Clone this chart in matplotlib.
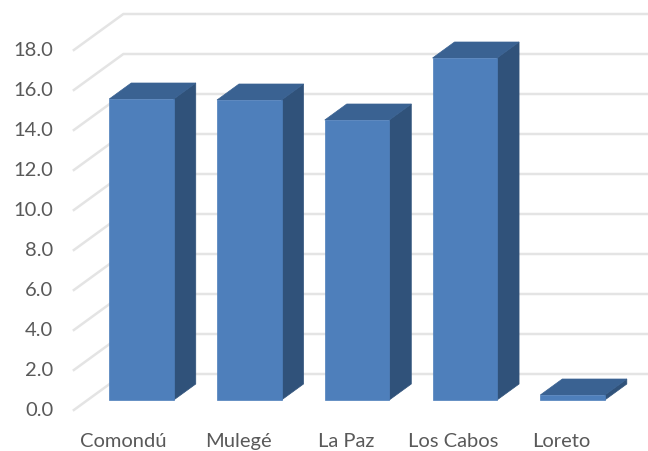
import matplotlib
matplotlib.use('Agg')
import matplotlib.pyplot as plt
from matplotlib.patches import Polygon

categories = ['Comondú', 'Mulegé', 'La Paz', 'Los Cabos', 'Loreto']
values = [15.05, 15.0, 14.0, 17.1, 0.25]
y_ticks = [0, 2, 4, 6, 8, 10, 12, 14, 16, 18]

FRONT = '#4e7fbb'
TOP = '#3a6292'
SIDE = '#30527a'
GRID = '#e4e4e4'
TEXT = '#595959'

plt.rcParams['font.family'] = ['Lato', 'DejaVu Sans']

# depth is faked by a shift per unit of depth, in data units
DX = 22 / 107.75
DY = 16 / 20
BAR_W = 64.5 / 107.75


def proj(x, y, d):
    return (x + DX * d, y + DY * d)


fig = plt.figure(figsize=(6.48, 4.51), dpi=100)
ax = fig.add_axes([0, 0, 1, 1])
ax.set_xlim(-1.313, 4.70)
ax.set_ylim(-2.55, 20)
ax.axis('off')

wall_front = -0.625
wall_back = 1.625
for t in y_ticks:
    p0 = proj(-0.5, t, wall_front)
    p1 = proj(-0.5, t, wall_back)
    p2 = proj(5, t, wall_back)
    ax.plot([p0[0], p1[0], p2[0]], [p0[1], p1[1], p2[1]], color=GRID, lw=1.8, zorder=1)
    ax.text(p0[0] - 0.19, p0[1], '%.1f' % t, ha='right', va='center', color=TEXT, fontsize=14.5)

for i, v in enumerate(values):
    l = i - BAR_W / 2
    r = i + BAR_W / 2
    front = [proj(l, 0, 0), proj(r, 0, 0), proj(r, v, 0), proj(l, v, 0)]
    side = [proj(r, 0, 0), proj(r, 0, 1), proj(r, v, 1), proj(r, v, 0)]
    top = [proj(l, v, 0), proj(r, v, 0), proj(r, v, 1), proj(l, v, 1)]
    ax.add_patch(Polygon(side, closed=True, fc=SIDE, ec=SIDE, lw=0.5, zorder=3))
    ax.add_patch(Polygon(top, closed=True, fc=TOP, ec=TOP, lw=0.5, zorder=3))
    ax.add_patch(Polygon(front, closed=True, fc=FRONT, ec=FRONT, lw=0.5, zorder=4))

for i, name in enumerate(categories):
    shift = -0.17 if i == 0 else -0.105
    ax.text(i + shift, -2.33, name, ha='center', va='baseline', color=TEXT, fontsize=14.5)

fig.savefig('out.png', dpi=100)
